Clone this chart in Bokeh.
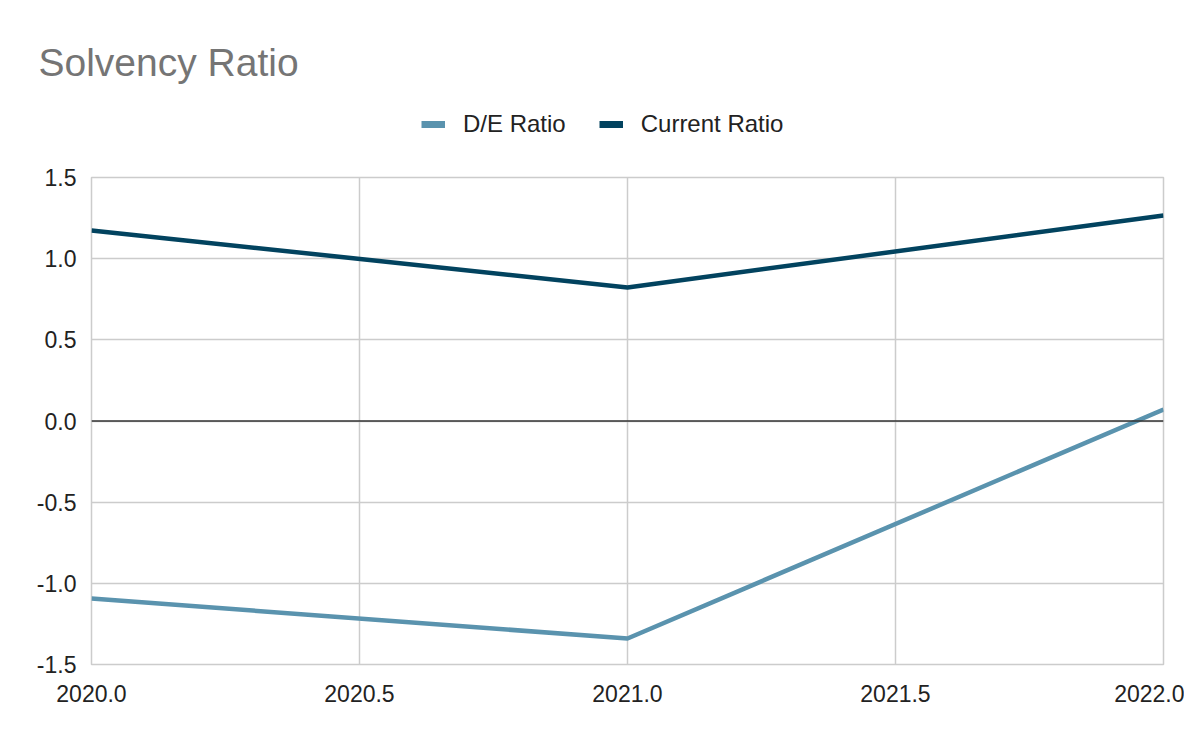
from bokeh.plotting import figure
from bokeh.models import (FixedTicker, PrintfTickFormatter, Span, Legend, LegendItem, Label,
                          Range1d, ColumnDataSource)
from bokeh.embed import file_html
from bokeh.resources import INLINE

years = [2020, 2021, 2022]
de_ratio = [-1.094, -1.340, 0.071]
current_ratio = [1.174, 0.823, 1.266]
x_ticks = [2020, 2020.5, 2021, 2021.5, 2022]
y_ticks = [-1.5, -1.0, -0.5, 0.0, 0.5, 1.0, 1.5]
series_names = ["D/E Ratio", "Current Ratio"]
series_colors = ["#5a93ae", "#02435f"]

FONT = "Liberation Sans"
W = 1184
TOP_H = 150          # header height
FRAME_TOP = 177      # frame top in the page

# ---- header: title + legend ----
head = figure(width=W, height=TOP_H, output_backend="svg", toolbar_location=None,
              x_axis_type=None, y_axis_type=None,
              x_range=Range1d(0, 1), y_range=Range1d(0, 1),
              min_border=0, min_border_left=0, min_border_right=0,
              min_border_top=0, min_border_bottom=0)
head.grid.visible = False
head.outline_line_color = None
head.background_fill_color = "white"
head.border_fill_color = "white"

head.add_layout(Label(x=38, y=TOP_H - 62, x_units="screen", y_units="screen",
                      text="Solvency Ratio", text_font=FONT, text_font_size="39px",
                      text_color="#757575", text_baseline="alphabetic"))

nan = float("nan")
dummy = ColumnDataSource(dict(x=[nan], y=[nan]))
items = []
for name, col in zip(series_names, series_colors):
    r = head.line("x", "y", source=dummy, line_color=col, line_width=7)
    items.append(LegendItem(label=name, renderers=[r]))

legend = Legend(items=items, orientation="horizontal", location=(421, TOP_H - 138))
legend.label_text_font = FONT
legend.label_text_font_size = "24px"
legend.label_text_color = "#222222"
legend.glyph_width = 24
legend.label_standoff = 18
legend.spacing = 33
legend.padding = 0
legend.margin = 0
legend.border_line_color = None
legend.background_fill_alpha = 0
head.add_layout(legend, "center")

# ---- main chart ----
p = figure(width=W, height=726 - TOP_H, output_backend="svg", toolbar_location=None,
           x_range=Range1d(2020, 2022), y_range=Range1d(-1.5, 1.5),
           min_border_left=91, min_border_right=21, min_border_top=FRAME_TOP - TOP_H,
           min_border_bottom=62)
p.background_fill_color = "white"
p.border_fill_color = "white"
p.outline_line_color = "#cccccc"
p.outline_line_width = 1.5

src = ColumnDataSource(dict(x=years, de=de_ratio, cur=current_ratio))
p.line("x", "de", source=src, line_color=series_colors[0], line_width=4.5)
p.line("x", "cur", source=src, line_color=series_colors[1], line_width=4.5)

for ax in (p.xaxis[0], p.yaxis[0]):
    ax.axis_line_color = None
    ax.major_tick_line_color = None
    ax.minor_tick_line_color = None
    ax.major_label_text_font = FONT
    ax.major_label_text_font_size = "23px"
    ax.major_label_text_color = "#222222"
    ax.formatter = PrintfTickFormatter(format="%.1f")
p.xaxis.ticker = FixedTicker(ticks=x_ticks)
p.yaxis.ticker = FixedTicker(ticks=y_ticks)
p.xaxis.major_label_standoff = 14
p.yaxis.major_label_standoff = 9

p.grid.grid_line_color = "#cccccc"
p.grid.grid_line_width = 1.5

p.add_layout(Span(location=0, dimension="width", line_color="#333333", line_width=1.5))

open("out.html", "w").write(file_html([head, p], INLINE))
